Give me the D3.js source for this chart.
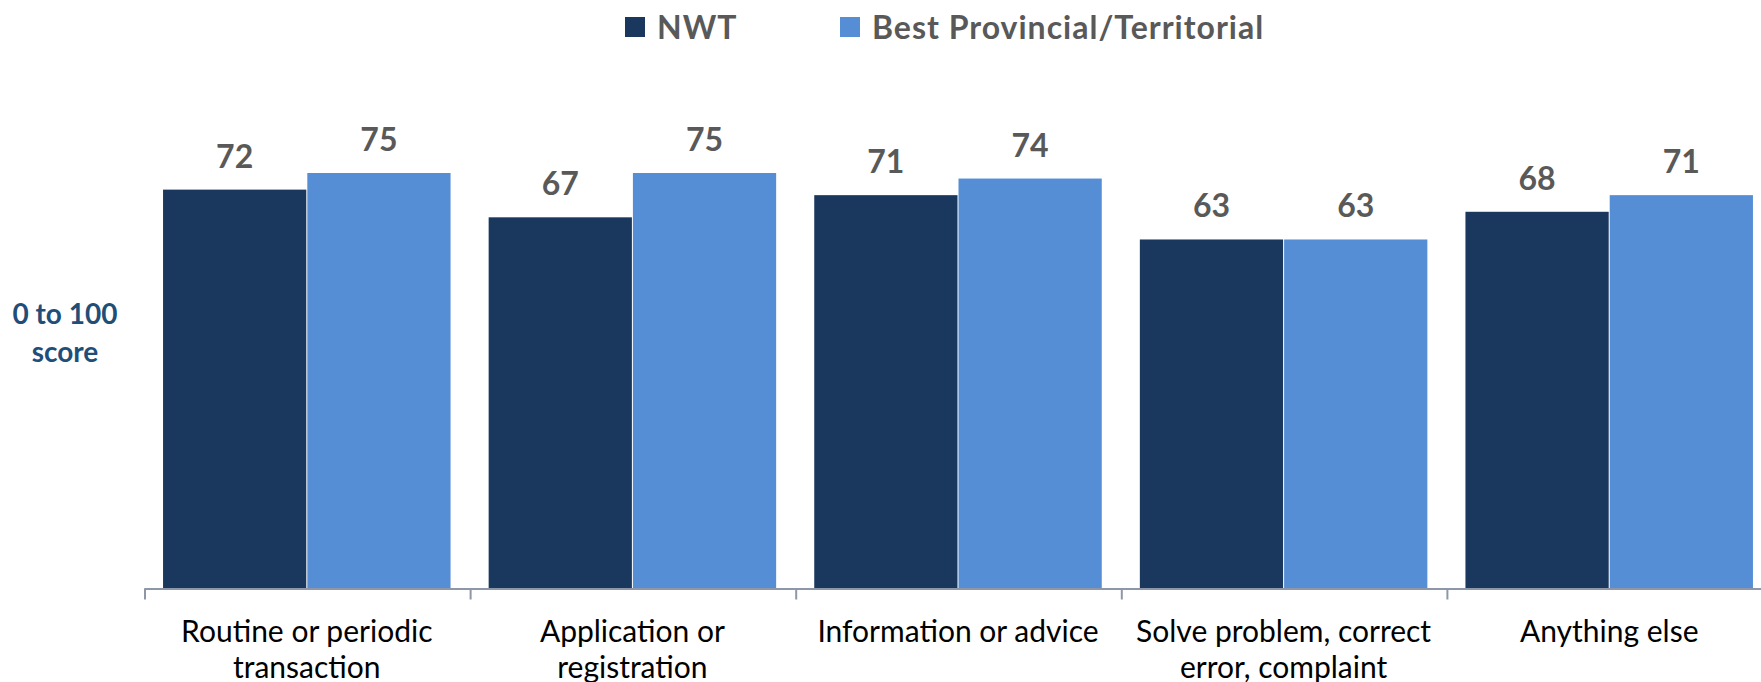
<!DOCTYPE html>
<html>
<head>
<meta charset="utf-8">
<script src="https://cdn.jsdelivr.net/npm/d3@7"></script>
<style>
  body { margin: 0; background: #fff; }
  svg { display: block; }
</style>
</head>
<body>
<div id="chart"></div>
<script>
// data
var categories = ["Routine or periodic transaction", "Application or registration", "Information or advice", "Solve problem, correct error, complaint", "Anything else"];
var categoryLines = [["Routine or periodic", "transaction"], ["Application or", "registration"], ["Information or advice"], ["Solve problem, correct", "error, complaint"], ["Anything else"]];
var seriesNames = ["NWT", "Best Provincial/Territorial"];
var nwtValues = [72, 67, 71, 63, 68];
var bestValues = [75, 75, 74, 63, 71];
var seriesColors = ["#1a375e", "#558ed5"];

var rows = categories.map(function (c, i) {
    return { category: c, lines: categoryLines[i], values: [nwtValues[i], bestValues[i]] };
});

// size
var width = 1761, height = 682;
var margin = { top: 34.5, right: -11, bottom: 93.5, left: 144 };
var plotW = width - margin.left - margin.right;
var plotH = height - margin.top - margin.bottom;

var svg = d3.select("#chart").append("svg")
    .attr("width", width)
    .attr("height", height);

var g = svg.append("g")
    .attr("transform", "translate(" + margin.left + "," + margin.top + ")");

// scales
var x0 = d3.scaleBand()
    .domain(categories)
    .range([0, plotW])
    .paddingInner(0.117)
    .paddingOuter(0.0585);

var x1 = d3.scaleBand()
    .domain(seriesNames)
    .range([0, x0.bandwidth()])
    .paddingInner(0.007);

var y = d3.scaleLinear()
    .domain([0, 100])
    .range([plotH, 0]);

// bars
var groups = g.selectAll(".group")
    .data(rows)
    .enter().append("g")
    .attr("class", "group")
    .attr("transform", function (d) { return "translate(" + x0(d.category) + ",0)"; });

groups.selectAll("rect")
    .data(function (d) { return d.values.map(function (v, i) { return { name: seriesNames[i], value: v, idx: i }; }); })
    .enter().append("rect")
    .attr("x", function (d) { return x1(d.name); })
    .attr("y", function (d) { return y(d.value); })
    .attr("width", x1.bandwidth())
    .attr("height", function (d) { return plotH - y(d.value); })
    .attr("fill", function (d) { return seriesColors[d.idx]; });

// value labels
groups.selectAll(".val")
    .data(function (d) { return d.values.map(function (v, i) { return { name: seriesNames[i], value: v }; }); })
    .enter().append("text")
    .attr("class", "val")
    .attr("x", function (d) { return x1(d.name) + x1.bandwidth() / 2; })
    .attr("y", function (d) { return y(d.value) - 22; })
    .attr("text-anchor", "middle")
    .style("font-family", "Lato, 'Open Sans', sans-serif")
    .style("font-weight", "bold")
    .style("font-size", "32px")
    .style("fill", "#595959")
    .text(function (d) { return d.value; });

// x axis
var xAxis = d3.axisBottom(x0).tickSize(0).tickSizeOuter(0).tickFormat("");
var axisG = g.append("g")
    .attr("transform", "translate(0," + plotH + ")")
    .call(xAxis);
axisG.select(".domain").attr("stroke", "#8d97a8").attr("stroke-width", 2);

// boundary ticks between categories
var boundaries = categories.map(function (c) { return x0(c) - x0.step() * x0.paddingInner() / 2; });
boundaries.push(plotW);
axisG.selectAll(".bound")
    .data(boundaries)
    .enter().append("line")
    .attr("class", "bound")
    .attr("x1", function (d) { return d + 1; })
    .attr("x2", function (d) { return d + 1; })
    .attr("y1", 0)
    .attr("y2", 11)
    .attr("stroke", "#8d97a8")
    .attr("stroke-width", 2);

// category labels
var catLabels = g.selectAll(".cat")
    .data(rows)
    .enter().append("text")
    .attr("class", "cat")
    .attr("text-anchor", "middle")
    .attr("x", function (d) { return x0(d.category) + x0.bandwidth() / 2; })
    .attr("y", plotH + 53)
    .style("font-family", "Lato, 'Open Sans', sans-serif")
    .style("font-size", "30px")
    .style("fill", "#000");

catLabels.selectAll("tspan")
    .data(function (d) { return d.lines; })
    .enter().append("tspan")
    .attr("x", function () { var p = d3.select(this.parentNode).datum(); return x0(p.category) + x0.bandwidth() / 2; })
    .attr("dy", function (d, i) { return i === 0 ? 0 : 36; })
    .text(function (d) { return d; });

// y title
var yTitle = svg.append("text")
    .attr("text-anchor", "middle")
    .style("font-family", "Lato, 'Open Sans', sans-serif")
    .style("font-weight", "bold")
    .style("font-size", "28px")
    .style("fill", "#1f4e79");
yTitle.append("tspan").attr("x", 65).attr("y", 324).text("0 to 100");
yTitle.append("tspan").attr("x", 65).attr("y", 362).text("score");

// legend
var legendX = [625, 840];
var legend = svg.selectAll(".legend")
    .data(seriesNames)
    .enter().append("g")
    .attr("class", "legend")
    .attr("transform", function (d, i) { return "translate(" + legendX[i] + ",0)"; });

legend.append("rect")
    .attr("x", 0)
    .attr("y", 17)
    .attr("width", 20)
    .attr("height", 20)
    .attr("fill", function (d, i) { return seriesColors[i]; });

legend.append("text")
    .attr("x", 32)
    .attr("y", 39)
    .style("font-family", "Lato, 'Open Sans', sans-serif")
    .style("font-weight", "bold")
    .style("font-size", "32px")
    .style("letter-spacing", "1px")
    .style("fill", "#595959")
    .text(function (d) { return d; });
</script>
</body>
</html>
